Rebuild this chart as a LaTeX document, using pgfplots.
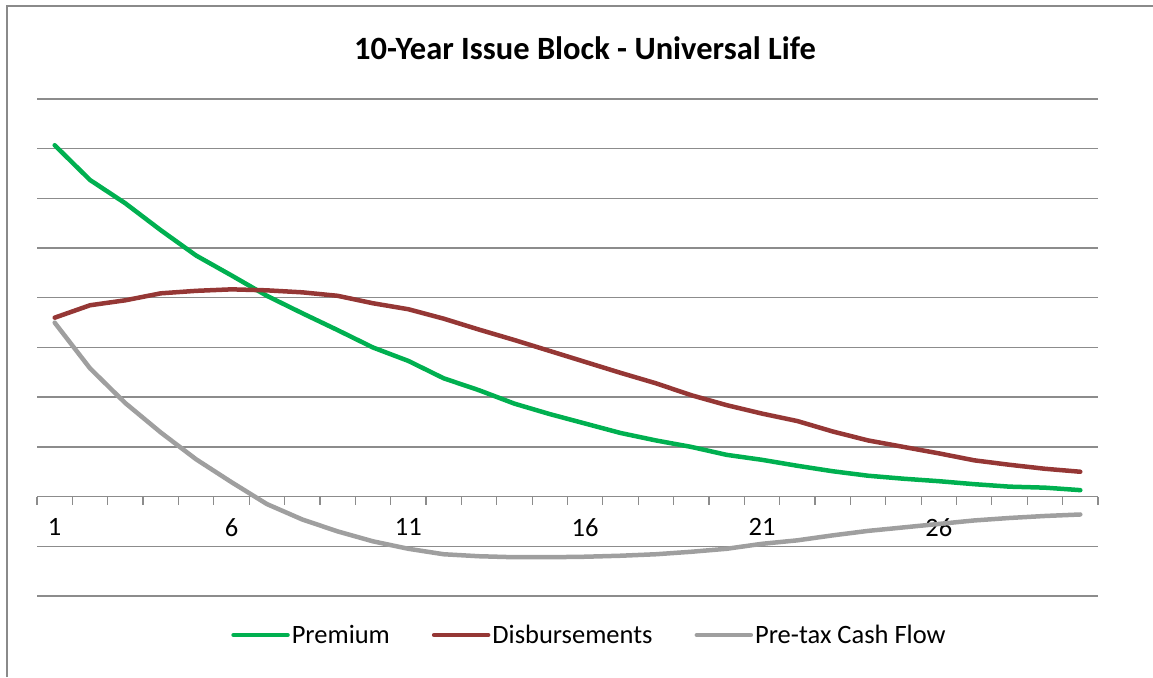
\documentclass[border=0pt]{standalone}
\usepackage{fontspec}
\setmainfont{Carlito}
\usepackage{pgfplots}
\pgfplotsset{compat=1.18}
\definecolor{premc}{HTML}{00B050}
\definecolor{disbc}{HTML}{953735}
\definecolor{cashc}{HTML}{9F9F9F}
\definecolor{gridc}{HTML}{8C8C8C}
\definecolor{framec}{HTML}{8A8A8A}
\begin{document}
\begin{tikzpicture}
\useasboundingbox (0pt,0pt) rectangle (1153pt,677pt);
\draw[framec, line width=2pt] (7pt,0pt) -- (7pt,671pt) -- (1153pt,671pt);
\node[font=\bfseries\fontsize{32.5}{38}\selectfont] at (585pt,629pt) {10-Year Issue Block - Universal Life};
\begin{axis}[
  at={(37pt,81pt)}, anchor=south west,
  scale only axis, width=1061pt, height=497pt,
  xmin=0.5, xmax=30.5, ymin=-2, ymax=8,
  axis x line=middle, axis y line=left,
  x axis line style={-, draw=gridc, line width=1.5pt},
  y axis line style={draw=none},
  ytick={-2,-1,...,8}, yticklabels={}, ytick style={draw=none},
  ymajorgrids, grid style={gridc, line width=1.4pt},
  xtick={0.5,1.5,...,30.5}, xticklabels={},
  hide obscured x ticks=false,
  xtick align=outside, major tick length=8pt,
  xtick style={gridc, line width=1.2pt},
  extra x ticks={1,6,11,16,21,26},
  extra x tick labels={1,6,11,16,21,26},
  extra x tick style={major tick length=0pt, grid=none},
  xticklabel style={font=\fontsize{26.5}{30}\selectfont, yshift=-18pt},
  /pgf/number format/assume math mode=true,
  legend columns=3,
  legend style={draw=none, at={(0.5207,-0.0785)}, anchor=center,
    font=\fontsize{26.5}{30}\selectfont,
    /tikz/every even column/.append style={column sep=40pt}},
  legend image code/.code={\draw[#1, line cap=round] (0pt,0pt) -- (54pt,0pt);},
  every axis plot/.append style={line width=4.5pt, line join=round, line cap=round},
]
\addplot[premc] coordinates {
(1,7.07) (2,6.37) (3,5.90) (4,5.36) (5,4.85) (6,4.45) (7,4.04) (8,3.69) (9,3.35) (10,3.00)
(11,2.73) (12,2.38) (13,2.14) (14,1.87) (15,1.66) (16,1.47) (17,1.28) (18,1.13) (19,1.00) (20,0.84)
(21,0.74) (22,0.62) (23,0.51) (24,0.42) (25,0.36) (26,0.31) (27,0.25) (28,0.20) (29,0.18) (30,0.13)};
\addlegendentry{Premium}
\addplot[disbc] coordinates {
(1,3.60) (2,3.85) (3,3.95) (4,4.09) (5,4.14) (6,4.17) (7,4.15) (8,4.11) (9,4.04) (10,3.89)
(11,3.77) (12,3.58) (13,3.36) (14,3.15) (15,2.93) (16,2.71) (17,2.49) (18,2.28) (19,2.04) (20,1.84)
(21,1.67) (22,1.52) (23,1.31) (24,1.13) (25,1.00) (26,0.87) (27,0.73) (28,0.64) (29,0.56) (30,0.50)};
\addlegendentry{Disbursements}
\addplot[cashc] coordinates {
(1,3.50) (2,2.58) (3,1.88) (4,1.29) (5,0.75) (6,0.29) (7,-0.15) (8,-0.46) (9,-0.70) (10,-0.90)
(11,-1.05) (12,-1.16) (13,-1.20) (14,-1.22) (15,-1.22) (16,-1.21) (17,-1.19) (18,-1.16) (19,-1.11) (20,-1.05)
(21,-0.95) (22,-0.88) (23,-0.78) (24,-0.69) (25,-0.62) (26,-0.55) (27,-0.48) (28,-0.43) (29,-0.39) (30,-0.36)};
\addlegendentry{Pre-tax Cash Flow}
\end{axis}
\end{tikzpicture}
\end{document}
